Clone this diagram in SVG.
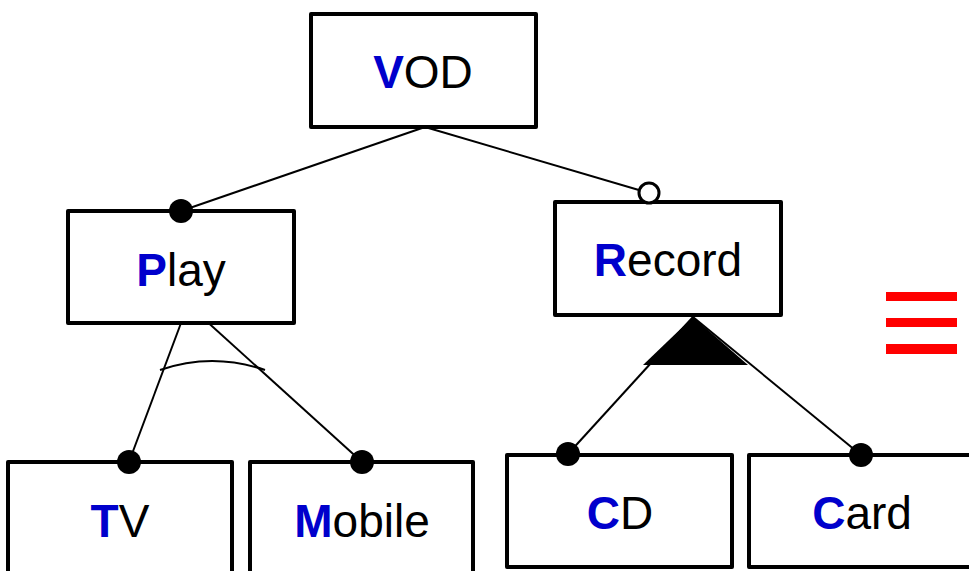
<svg xmlns="http://www.w3.org/2000/svg" width="969" height="571" viewBox="0 0 969 571">
  <style>
    .box { fill: #ffffff; stroke: #000000; stroke-width: 4; stroke-linejoin: round; }
    .lbl { font-family: "Liberation Sans", Arial, sans-serif; font-size: 46px; fill: #000000; text-anchor: middle; }
    .key { fill: #0000cc; font-weight: bold; }
    .edge { stroke: #000000; stroke-width: 2; fill: none; }
    .dot { fill: #000000; }
    .opt { fill: #ffffff; stroke: #000000; stroke-width: 3; }
  </style>
  <rect width="969" height="571" fill="#ffffff"/>

  <!-- connectors -->
  <g id="connectors">
    <line class="edge" x1="425" y1="127" x2="181" y2="211"/>
    <line class="edge" x1="425" y1="127" x2="649" y2="193"/>
    <line class="edge" x1="181" y1="323" x2="129" y2="462"/>
    <line class="edge" x1="203" y1="318" x2="362" y2="462"/>
    <path class="edge" d="M160,370 Q212,352 265,370" stroke-width="1.5"/>
    <line class="edge" x1="693" y1="317" x2="568" y2="454"/>
    <line class="edge" x1="693" y1="317" x2="861" y2="455"/>
    <polygon points="693,317 643,365 748,365" fill="#000000"/>
  </g>

  <g id="node-vod">
    <rect class="box" x="311" y="14" width="225" height="113"/>
    <text class="lbl" x="423" y="88"><tspan class="key">V</tspan>OD</text>
  </g>

  <g id="node-play">
    <rect class="box" x="68" y="211" width="226" height="112"/>
    <text class="lbl" x="181" y="286"><tspan class="key">P</tspan>lay</text>
  </g>

  <g id="node-record">
    <rect class="box" x="555" y="202" width="226" height="113"/>
    <text class="lbl" x="668" y="276"><tspan class="key">R</tspan>ecord</text>
  </g>

  <g id="node-tv">
    <rect class="box" x="8" y="462" width="224" height="120"/>
    <text class="lbl" x="120" y="537"><tspan class="key">T</tspan>V</text>
  </g>

  <g id="node-mobile">
    <rect class="box" x="250" y="462" width="223" height="120"/>
    <text class="lbl" x="362" y="537"><tspan class="key">M</tspan>obile</text>
  </g>

  <g id="node-cd">
    <rect class="box" x="507" y="455" width="225" height="112"/>
    <text class="lbl" x="620" y="529"><tspan class="key">C</tspan>D</text>
  </g>

  <g id="node-card">
    <rect class="box" x="749" y="455" width="225" height="112"/>
    <text class="lbl" x="862" y="529"><tspan class="key">C</tspan>ard</text>
  </g>

  <!-- end markers on the child boxes -->
  <g id="markers">
    <circle class="dot" cx="181" cy="211" r="12"/>
    <circle class="opt" cx="649" cy="193" r="10"/>
    <circle class="dot" cx="129" cy="462" r="12"/>
    <circle class="dot" cx="362" cy="462" r="12"/>
    <circle class="dot" cx="568" cy="454" r="12"/>
    <circle class="dot" cx="861" cy="455" r="12"/>
  </g>

  <!-- equivalence sign -->
  <g id="equiv" fill="#ff0000">
    <rect x="886" y="292" width="71" height="9"/>
    <rect x="886" y="318" width="71" height="9"/>
    <rect x="886" y="344" width="71" height="10"/>
  </g>
</svg>
